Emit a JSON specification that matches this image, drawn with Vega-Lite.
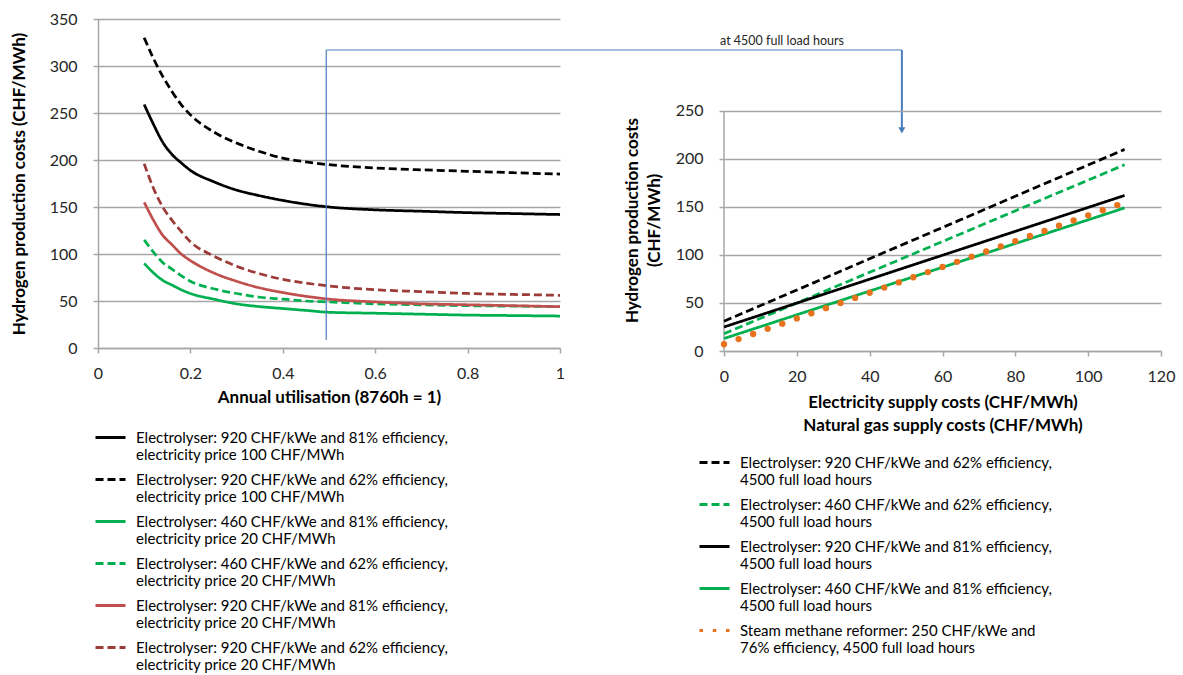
{
  "$schema": "https://vega.github.io/schema/vega-lite/v6.json",
  "background": "white",
  "padding": {"left": 10, "top": 11, "right": 5, "bottom": 5},
  "spacing": 164,
  "bounds": "flush",
  "config": {
    "view": {"stroke": null},
    "font": "Lato",
    "axis": {
      "labelFont": "Lato", "labelFontSize": 16, "labelColor": "#262626",
      "titleFont": "Lato", "titleFontSize": 17, "titleFontWeight": "bold", "titleColor": "#000000",
      "domainColor": "#a6a6a6", "domainWidth": 1.5, "tickColor": "#a6a6a6", "tickWidth": 1.5, "tickSize": 5,
      "gridColor": "#a6a6a6", "gridWidth": 1.5
    },
    "axisX": {"grid": false, "labelPadding": 12, "titlePadding": 8, "labelFlush": false},
    "axisY": {"grid": true, "labelPadding": 16},
    "legend": {
      "labelFont": "Lato", "labelFontSize": 15, "labelColor": "#000000", "labelLimit": 600,
      "symbolType": "stroke", "symbolSize": 900, "symbolStrokeWidth": 3, "labelOffset": 9,
      "padding": 0, "rowPadding": 0
    }
  },
  "resolve": {"scale": {"color": "independent", "strokeDash": "independent", "x": "independent", "y": "independent"}},
  "datasets": {
    "ls": [
      {"k": "b81", "name": "Electrolyser: 920 CHF/kWe and 81% efficiency,|electricity price 100 CHF/MWh"},
      {"k": "b62", "name": "Electrolyser: 920 CHF/kWe and 62% efficiency,|electricity price 100 CHF/MWh"},
      {"k": "g81", "name": "Electrolyser: 460 CHF/kWe and 81% efficiency,|electricity price 20 CHF/MWh"},
      {"k": "g62", "name": "Electrolyser: 460 CHF/kWe and 62% efficiency,|electricity price 20 CHF/MWh"},
      {"k": "r81", "name": "Electrolyser: 920 CHF/kWe and 81% efficiency,|electricity price 20 CHF/MWh"},
      {"k": "r62", "name": "Electrolyser: 920 CHF/kWe and 62% efficiency,|electricity price 20 CHF/MWh"}
    ],
    "rs": [
      {"k": "rb62", "name": "Electrolyser: 920 CHF/kWe and 62% efficiency,|4500 full load hours"},
      {"k": "rg62", "name": "Electrolyser: 460 CHF/kWe and 62% efficiency,|4500 full load hours"},
      {"k": "rb81", "name": "Electrolyser: 920 CHF/kWe and 81% efficiency,|4500 full load hours"},
      {"k": "rg81", "name": "Electrolyser: 460 CHF/kWe and 81% efficiency,|4500 full load hours"},
      {"k": "smr", "name": "Steam methane reformer: 250 CHF/kWe and|76% efficiency, 4500 full load hours"}
    ],
    "lft": [
      {"k":"b81","u":0.1,"c":259},{"k":"b81","u":0.12,"c":238},{"k":"b81","u":0.14,"c":219},{"k":"b81","u":0.16,"c":206},{"k":"b81","u":0.18,"c":197},{"k":"b81","u":0.2,"c":189},{"k":"b81","u":0.25,"c":177},{"k":"b81","u":0.3,"c":168},{"k":"b81","u":0.35,"c":162},{"k":"b81","u":0.4,"c":157},{"k":"b81","u":0.45,"c":153},{"k":"b81","u":0.5,"c":150},{"k":"b81","u":0.6,"c":147},{"k":"b81","u":0.7,"c":145.5},{"k":"b81","u":0.8,"c":144},{"k":"b81","u":0.9,"c":143},{"k":"b81","u":1,"c":142},
      {"k":"b62","u":0.1,"c":330},{"k":"b62","u":0.12,"c":308},{"k":"b62","u":0.14,"c":289},{"k":"b62","u":0.16,"c":273},{"k":"b62","u":0.18,"c":259},{"k":"b62","u":0.2,"c":248},{"k":"b62","u":0.25,"c":230},{"k":"b62","u":0.3,"c":218},{"k":"b62","u":0.35,"c":209},{"k":"b62","u":0.4,"c":202},{"k":"b62","u":0.45,"c":198},{"k":"b62","u":0.5,"c":195},{"k":"b62","u":0.6,"c":191.5},{"k":"b62","u":0.7,"c":189.5},{"k":"b62","u":0.8,"c":188},{"k":"b62","u":0.9,"c":186.5},{"k":"b62","u":1,"c":185},
      {"k":"g81","u":0.1,"c":90},{"k":"g81","u":0.12,"c":80},{"k":"g81","u":0.14,"c":72},{"k":"g81","u":0.16,"c":67},{"k":"g81","u":0.18,"c":62},{"k":"g81","u":0.2,"c":58},{"k":"g81","u":0.25,"c":52},{"k":"g81","u":0.3,"c":47},{"k":"g81","u":0.35,"c":44},{"k":"g81","u":0.4,"c":42},{"k":"g81","u":0.45,"c":40},{"k":"g81","u":0.5,"c":38},{"k":"g81","u":0.6,"c":37},{"k":"g81","u":0.7,"c":36},{"k":"g81","u":0.8,"c":35},{"k":"g81","u":0.9,"c":34.5},{"k":"g81","u":1,"c":34},
      {"k":"g62","u":0.1,"c":115},{"k":"g62","u":0.12,"c":102},{"k":"g62","u":0.14,"c":91},{"k":"g62","u":0.16,"c":84},{"k":"g62","u":0.18,"c":77},{"k":"g62","u":0.2,"c":71},{"k":"g62","u":0.25,"c":63},{"k":"g62","u":0.3,"c":58},{"k":"g62","u":0.35,"c":54},{"k":"g62","u":0.4,"c":52},{"k":"g62","u":0.45,"c":50},{"k":"g62","u":0.5,"c":49},{"k":"g62","u":0.6,"c":47},{"k":"g62","u":0.7,"c":46},{"k":"g62","u":0.8,"c":45},{"k":"g62","u":0.9,"c":44.5},{"k":"g62","u":1,"c":44},
      {"k":"r81","u":0.1,"c":155},{"k":"r81","u":0.12,"c":136},{"k":"r81","u":0.14,"c":120},{"k":"r81","u":0.16,"c":110},{"k":"r81","u":0.18,"c":100},{"k":"r81","u":0.2,"c":93},{"k":"r81","u":0.25,"c":80},{"k":"r81","u":0.3,"c":71},{"k":"r81","u":0.35,"c":64},{"k":"r81","u":0.4,"c":59},{"k":"r81","u":0.45,"c":55},{"k":"r81","u":0.5,"c":52},{"k":"r81","u":0.6,"c":49},{"k":"r81","u":0.7,"c":47},{"k":"r81","u":0.8,"c":46},{"k":"r81","u":0.9,"c":45},{"k":"r81","u":1,"c":44},
      {"k":"r62","u":0.1,"c":196},{"k":"r62","u":0.12,"c":170},{"k":"r62","u":0.14,"c":150},{"k":"r62","u":0.16,"c":136},{"k":"r62","u":0.18,"c":124},{"k":"r62","u":0.2,"c":113},{"k":"r62","u":0.25,"c":98},{"k":"r62","u":0.3,"c":87},{"k":"r62","u":0.35,"c":79},{"k":"r62","u":0.4,"c":73},{"k":"r62","u":0.45,"c":69},{"k":"r62","u":0.5,"c":66},{"k":"r62","u":0.6,"c":62},{"k":"r62","u":0.7,"c":60},{"k":"r62","u":0.8,"c":58},{"k":"r62","u":0.9,"c":57},{"k":"r62","u":1,"c":56}
    ],
    "rgt": [
      {"k":"rb62","e":0,"c":31},{"k":"rb62","e":110,"c":210},
      {"k":"rg62","e":0,"c":18},{"k":"rg62","e":110,"c":194},
      {"k":"rb81","e":0,"c":25},{"k":"rb81","e":110,"c":162},
      {"k":"rg81","e":0,"c":13},{"k":"rg81","e":110,"c":149}
    ],
    "smrpts": [
      {"e":0,"c":7},{"e":4,"c":12.4},{"e":8,"c":17.7},{"e":12,"c":23.1},{"e":16,"c":28.5},{"e":20,"c":33.9},{"e":24,"c":39.2},{"e":28,"c":44.6},{"e":32,"c":50},{"e":36,"c":55.3},{"e":40,"c":60.7},{"e":44,"c":66.1},{"e":48,"c":71.4},{"e":52,"c":76.8},{"e":56,"c":82.2},{"e":60,"c":87.6},{"e":64,"c":92.9},{"e":68,"c":98.3},{"e":72,"c":103.7},{"e":76,"c":109},{"e":80,"c":114.4},{"e":84,"c":119.8},{"e":88,"c":125.1},{"e":92,"c":130.5},{"e":96,"c":135.9},{"e":100,"c":141.3},{"e":104,"c":146.6},{"e":108,"c":152}
    ],
    "ann": [
      {"u": 0.494, "c": 8.5, "u2": 0.494, "c2": 317},
      {"u": 0.494, "c": 317, "u2": 1.74, "c2": 317}
    ]
  },
  "hconcat": [
    {
      "width": 462,
      "height": 329,
      "layer": [
        {
          "data": {"name": "lft"},
          "transform": [{"lookup": "k", "from": {"data": {"name": "ls"}, "key": "k", "fields": ["name"]}}],
          "mark": {"type": "line", "strokeWidth": 2.75, "interpolate": "monotone"},
          "encoding": {
            "x": {"field": "u", "type": "quantitative", "scale": {"domain": [0, 1], "nice": false},
                  "axis": {"values": [0, 0.2, 0.4, 0.6, 0.8, 1], "format": "~g", "title": "Annual utilisation (8760h = 1)"}},
            "y": {"field": "c", "type": "quantitative", "scale": {"domain": [0, 350], "nice": false},
                  "axis": {"values": [0, 50, 100, 150, 200, 250, 300, 350], "title": "Hydrogen production  costs (CHF/MWh)", "titlePadding": 21}},
            "color": {"field": "name", "type": "nominal",
              "scale": {"domain": [
                "Electrolyser: 920 CHF/kWe and 81% efficiency,|electricity price 100 CHF/MWh",
                "Electrolyser: 920 CHF/kWe and 62% efficiency,|electricity price 100 CHF/MWh",
                "Electrolyser: 460 CHF/kWe and 81% efficiency,|electricity price 20 CHF/MWh",
                "Electrolyser: 460 CHF/kWe and 62% efficiency,|electricity price 20 CHF/MWh",
                "Electrolyser: 920 CHF/kWe and 81% efficiency,|electricity price 20 CHF/MWh",
                "Electrolyser: 920 CHF/kWe and 62% efficiency,|electricity price 20 CHF/MWh"],
                "range": ["#000000", "#000000", "#00b050", "#00b050", "#c0504d", "#9c3b38"]},
              "legend": {"title": null, "orient": "none", "legendX": -4, "legendY": 402, "labelExpr": "split(datum.label, '|')"}},
            "strokeDash": {"field": "name", "type": "nominal",
              "scale": {"domain": [
                "Electrolyser: 920 CHF/kWe and 81% efficiency,|electricity price 100 CHF/MWh",
                "Electrolyser: 920 CHF/kWe and 62% efficiency,|electricity price 100 CHF/MWh",
                "Electrolyser: 460 CHF/kWe and 81% efficiency,|electricity price 20 CHF/MWh",
                "Electrolyser: 460 CHF/kWe and 62% efficiency,|electricity price 20 CHF/MWh",
                "Electrolyser: 920 CHF/kWe and 81% efficiency,|electricity price 20 CHF/MWh",
                "Electrolyser: 920 CHF/kWe and 62% efficiency,|electricity price 20 CHF/MWh"],
                "range": [[1, 0], [8, 4], [1, 0], [8, 4], [1, 0], [8, 4]]},
              "legend": {"title": null, "orient": "none", "legendX": -4, "legendY": 402, "labelExpr": "split(datum.label, '|')"}}
          }
        },
        {
          "data": {"name": "ann"},
          "mark": {"type": "rule", "color": "#4a7ebb", "strokeWidth": 1.2},
          "encoding": {
            "x": {"field": "u", "type": "quantitative"},
            "x2": {"field": "u2"},
            "y": {"field": "c", "type": "quantitative"},
            "y2": {"field": "c2"}
          }
        },
        {
          "data": {"values": [{"u": 1.74, "c": 317, "c2": 234}]},
          "mark": {"type": "rule", "color": "#4a7ebb", "strokeWidth": 2},
          "encoding": {
            "x": {"field": "u", "type": "quantitative"},
            "y": {"field": "c", "type": "quantitative"},
            "y2": {"field": "c2"}
          }
        },
        {
          "data": {"values": [{"u": 1.74, "c": 231.5}]},
          "mark": {"type": "point", "shape": "triangle-down", "filled": true, "size": 50, "color": "#4a7ebb", "opacity": 1},
          "encoding": {
            "x": {"field": "u", "type": "quantitative"},
            "y": {"field": "c", "type": "quantitative"}
          }
        },
        {
          "data": {"values": [{"u": 1.4805, "c": 327, "t": "at 4500 full load hours"}]},
          "mark": {"type": "text", "font": "Lato", "fontSize": 12.5, "color": "#262626", "align": "center", "baseline": "middle"},
          "encoding": {
            "x": {"field": "u", "type": "quantitative"},
            "y": {"field": "c", "type": "quantitative"},
            "text": {"field": "t", "type": "nominal"}
          }
        }
      ]
    },
    {
      "width": 437,
      "height": 332,
      "layer": [
        {
          "data": {"values": [{"e": 0, "c": 0, "c2": 250}]},
          "mark": {"type": "rule", "color": "#a6a6a6", "strokeWidth": 1.5},
          "encoding": {
            "x": {"field": "e", "type": "quantitative"},
            "y": {"field": "c", "type": "quantitative"},
            "y2": {"field": "c2"}
          }
        },
        {
          "data": {"name": "rgt"},
          "transform": [{"lookup": "k", "from": {"data": {"name": "rs"}, "key": "k", "fields": ["name"]}}],
          "mark": {"type": "line", "strokeWidth": 2.75},
          "encoding": {
            "x": {"field": "e", "type": "quantitative", "scale": {"domain": [0, 120], "nice": false},
                  "axis": {"values": [0, 20, 40, 60, 80, 100, 120], "title": ["Electricity supply costs (CHF/MWh)", "Natural gas supply costs (CHF/MWh)"], "titleLineHeight": 23, "titlePadding": 10}},
            "y": {"field": "c", "type": "quantitative", "scale": {"domain": [0, 345.8], "nice": false},
                  "axis": {"values": [0, 50, 100, 150, 200, 250], "domain": false, "title": ["Hydrogen production  costs", "(CHF/MWh)"], "titleLineHeight": 22, "titlePadding": 12, "titleY": 201}},
            "color": {"field": "name", "type": "nominal",
              "scale": {"domain": [
                "Electrolyser: 920 CHF/kWe and 62% efficiency,|4500 full load hours",
                "Electrolyser: 460 CHF/kWe and 62% efficiency,|4500 full load hours",
                "Electrolyser: 920 CHF/kWe and 81% efficiency,|4500 full load hours",
                "Electrolyser: 460 CHF/kWe and 81% efficiency,|4500 full load hours",
                "Steam methane reformer: 250 CHF/kWe and|76% efficiency, 4500 full load hours"],
                "range": ["#000000", "#00b050", "#000000", "#00b050", "#e8731c"]},
              "legend": {"title": null, "orient": "none", "legendX": -26, "legendY": 427, "labelExpr": "split(datum.label, '|')"}},
            "strokeDash": {"field": "name", "type": "nominal",
              "scale": {"domain": [
                "Electrolyser: 920 CHF/kWe and 62% efficiency,|4500 full load hours",
                "Electrolyser: 460 CHF/kWe and 62% efficiency,|4500 full load hours",
                "Electrolyser: 920 CHF/kWe and 81% efficiency,|4500 full load hours",
                "Electrolyser: 460 CHF/kWe and 81% efficiency,|4500 full load hours",
                "Steam methane reformer: 250 CHF/kWe and|76% efficiency, 4500 full load hours"],
                "range": [[8, 4], [8, 4], [1, 0], [1, 0], [3.5, 9.75]]},
              "legend": {"title": null, "orient": "none", "legendX": -26, "legendY": 427, "labelExpr": "split(datum.label, '|')"}}
          }
        },
        {
          "data": {"name": "smrpts"},
          "mark": {"type": "point", "shape": "circle", "filled": true, "size": 40, "color": "#e8731c", "opacity": 1},
          "encoding": {
            "x": {"field": "e", "type": "quantitative"},
            "y": {"field": "c", "type": "quantitative"}
          }
        }
      ]
    }
  ]
}
